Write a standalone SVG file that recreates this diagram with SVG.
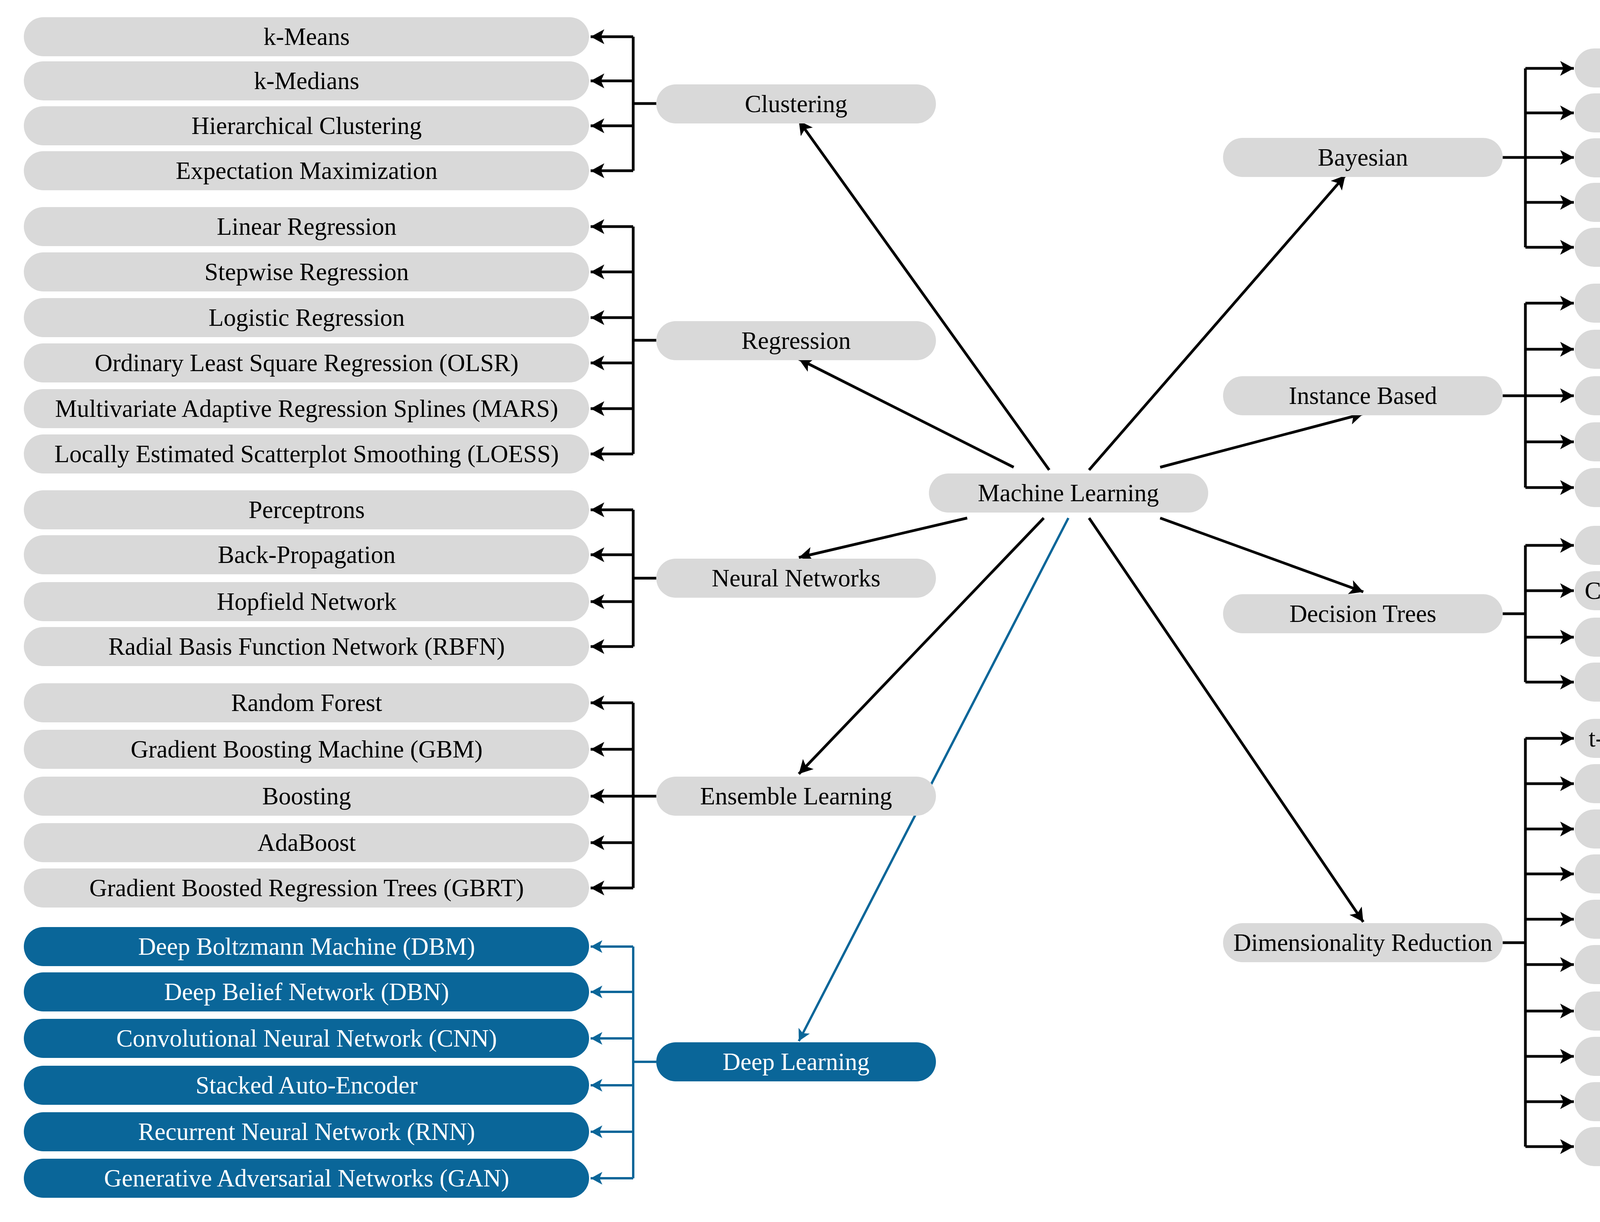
<svg xmlns="http://www.w3.org/2000/svg" width="5499" height="3128" viewBox="0 0 5499 3128">
<style>
.b{fill:#d9d9d9}
.d{fill:#0a6699}
text{font-family:"Liberation Serif","Times New Roman",serif;font-size:63px;text-anchor:middle;dominant-baseline:central;fill:#000}
.w{fill:#fff}
.k{stroke:#000;stroke-width:7;fill:none}
.u{stroke:#0a6699;stroke-width:6;fill:none}
.k line,.k path{marker-end:url(#a)}
.u line,.u path{marker-end:url(#ab)}
</style>
<defs>
<marker id="a" markerWidth="6" markerHeight="6" refX="5" refY="3" orient="auto" markerUnits="strokeWidth"><path d="M0,0.3 L5,3 L0,5.7 L1.2,3 Z" fill="#000"/></marker>
<marker id="ab" markerWidth="6" markerHeight="6" refX="5" refY="3" orient="auto" markerUnits="strokeWidth"><path d="M0,0.3 L5,3 L0,5.7 L1.2,3 Z" fill="#0a6699"/></marker>
</defs>
<g id="connectors">
<path class="k" d="M1680,265 H1621 M1621,94 V437 M1680,871 H1621 M1621,580 V1162 M1680,1480 H1621 M1621,1305 V1655 M1680,2038 H1621 M1621,1799 V2273 M3847,403 H3905 M3905,175 V633 M3847,1013 H3905 M3905,776 V1248 M3847,1571 H3905 M3905,1396 V1746 M3847,2413 H3905 M3905,1890 V2935"/>
<path class="u" d="M1680,2718 H1621 M1621,2423 V3016"/>
<g class="k">
<line x1="1621" y1="94" x2="1512" y2="94"/><line x1="1621" y1="207" x2="1512" y2="207"/><line x1="1621" y1="322" x2="1512" y2="322"/><line x1="1621" y1="437" x2="1512" y2="437"/>
<line x1="1621" y1="580" x2="1512" y2="580"/><line x1="1621" y1="696" x2="1512" y2="696"/><line x1="1621" y1="813" x2="1512" y2="813"/><line x1="1621" y1="929" x2="1512" y2="929"/><line x1="1621" y1="1046" x2="1512" y2="1046"/><line x1="1621" y1="1162" x2="1512" y2="1162"/>
<line x1="1621" y1="1305" x2="1512" y2="1305"/><line x1="1621" y1="1420" x2="1512" y2="1420"/><line x1="1621" y1="1540" x2="1512" y2="1540"/><line x1="1621" y1="1655" x2="1512" y2="1655"/>
<line x1="1621" y1="1799" x2="1512" y2="1799"/><line x1="1621" y1="1918" x2="1512" y2="1918"/><line x1="1621" y1="2038" x2="1512" y2="2038"/><line x1="1621" y1="2157" x2="1512" y2="2157"/><line x1="1621" y1="2273" x2="1512" y2="2273"/>
<line x1="3905" y1="175" x2="4029" y2="175"/><line x1="3905" y1="289" x2="4029" y2="289"/><line x1="3905" y1="403" x2="4029" y2="403"/><line x1="3905" y1="518" x2="4029" y2="518"/><line x1="3905" y1="633" x2="4029" y2="633"/>
<line x1="3905" y1="776" x2="4029" y2="776"/><line x1="3905" y1="894" x2="4029" y2="894"/><line x1="3905" y1="1013" x2="4029" y2="1013"/><line x1="3905" y1="1131" x2="4029" y2="1131"/><line x1="3905" y1="1248" x2="4029" y2="1248"/>
<line x1="3905" y1="1396" x2="4029" y2="1396"/><line x1="3905" y1="1512" x2="4029" y2="1512"/><line x1="3905" y1="1631" x2="4029" y2="1631"/><line x1="3905" y1="1746" x2="4029" y2="1746"/>
<line x1="3905" y1="1890" x2="4029" y2="1890"/><line x1="3905" y1="2006" x2="4029" y2="2006"/><line x1="3905" y1="2122" x2="4029" y2="2122"/><line x1="3905" y1="2237" x2="4029" y2="2237"/><line x1="3905" y1="2353" x2="4029" y2="2353"/><line x1="3905" y1="2469" x2="4029" y2="2469"/><line x1="3905" y1="2588" x2="4029" y2="2588"/><line x1="3905" y1="2704" x2="4029" y2="2704"/><line x1="3905" y1="2820" x2="4029" y2="2820"/><line x1="3905" y1="2935" x2="4029" y2="2935"/>
<line x1="2686" y1="1203" x2="2045" y2="309"/>
<line x1="2595" y1="1196" x2="2045" y2="919"/>
<line x1="2476" y1="1326" x2="2045" y2="1427"/>
<line x1="2672" y1="1326" x2="2045" y2="1981"/>
<line x1="2788" y1="1203" x2="3444" y2="449"/>
<line x1="2970" y1="1196" x2="3490" y2="1059"/>
<line x1="2970" y1="1326" x2="3490" y2="1515"/>
<line x1="2788" y1="1326" x2="3490" y2="2360"/>
</g>
<g class="u">
<line x1="1621" y1="2423" x2="1512" y2="2423"/><line x1="1621" y1="2539" x2="1512" y2="2539"/><line x1="1621" y1="2658" x2="1512" y2="2658"/><line x1="1621" y1="2778" x2="1512" y2="2778"/><line x1="1621" y1="2897" x2="1512" y2="2897"/><line x1="1621" y1="3016" x2="1512" y2="3016"/>
<line x1="2735" y1="1326" x2="2045" y2="2665"/>
</g>
</g>
<g id="ml"><rect class="b" x="2378" y="1212" width="715" height="100" rx="50"/><text x="2735" y="1262">Machine Learning</text></g>
<g id="clustering"><rect class="b" x="1680" y="216" width="716" height="100" rx="50"/><text x="2038" y="266">Clustering</text></g>
<g id="regression"><rect class="b" x="1680" y="822" width="716" height="100" rx="50"/><text x="2038" y="872">Regression</text></g>
<g id="neural"><rect class="b" x="1680" y="1430" width="716" height="100" rx="50"/><text x="2038" y="1480">Neural Networks</text></g>
<g id="ensemble"><rect class="b" x="1680" y="1988" width="716" height="100" rx="50"/><text x="2038" y="2038">Ensemble Learning</text></g>
<g id="deep"><rect class="d" x="1680" y="2668" width="716" height="100" rx="50"/><text class="w" x="2038" y="2718">Deep Learning</text></g>
<g id="bayesian"><rect class="b" x="3131" y="353" width="716" height="100" rx="50"/><text x="3489" y="403">Bayesian</text></g>
<g id="instance"><rect class="b" x="3131" y="963" width="716" height="100" rx="50"/><text x="3489" y="1013">Instance Based</text></g>
<g id="decision"><rect class="b" x="3131" y="1521" width="716" height="100" rx="50"/><text x="3489" y="1571">Decision Trees</text></g>
<g id="dimred"><rect class="b" x="3131" y="2363" width="716" height="100" rx="50"/><text x="3489" y="2413">Dimensionality Reduction</text></g>
<g id="left-items">
<g id="l1"><rect class="b" x="61" y="44" width="1447" height="100" rx="50"/><text x="785" y="94">k-Means</text></g>
<g id="l2"><rect class="b" x="61" y="157" width="1447" height="100" rx="50"/><text x="785" y="207">k-Medians</text></g>
<g id="l3"><rect class="b" x="61" y="272" width="1447" height="100" rx="50"/><text x="785" y="322">Hierarchical Clustering</text></g>
<g id="l4"><rect class="b" x="61" y="387" width="1447" height="100" rx="50"/><text x="785" y="437">Expectation Maximization</text></g>
<g id="l5"><rect class="b" x="61" y="530" width="1447" height="100" rx="50"/><text x="785" y="580">Linear Regression</text></g>
<g id="l6"><rect class="b" x="61" y="646" width="1447" height="100" rx="50"/><text x="785" y="696">Stepwise Regression</text></g>
<g id="l7"><rect class="b" x="61" y="763" width="1447" height="100" rx="50"/><text x="785" y="813">Logistic Regression</text></g>
<g id="l8"><rect class="b" x="61" y="879" width="1447" height="100" rx="50"/><text x="785" y="929">Ordinary Least Square Regression (OLSR)</text></g>
<g id="l9"><rect class="b" x="61" y="996" width="1447" height="100" rx="50"/><text x="785" y="1046">Multivariate Adaptive Regression Splines (MARS)</text></g>
<g id="l10"><rect class="b" x="61" y="1112" width="1447" height="100" rx="50"/><text x="785" y="1162">Locally Estimated Scatterplot Smoothing (LOESS)</text></g>
<g id="l11"><rect class="b" x="61" y="1255" width="1447" height="100" rx="50"/><text x="785" y="1305">Perceptrons</text></g>
<g id="l12"><rect class="b" x="61" y="1370" width="1447" height="100" rx="50"/><text x="785" y="1420">Back-Propagation</text></g>
<g id="l13"><rect class="b" x="61" y="1490" width="1447" height="100" rx="50"/><text x="785" y="1540">Hopfield Network</text></g>
<g id="l14"><rect class="b" x="61" y="1605" width="1447" height="100" rx="50"/><text x="785" y="1655">Radial Basis Function Network (RBFN)</text></g>
<g id="l15"><rect class="b" x="61" y="1749" width="1447" height="100" rx="50"/><text x="785" y="1799">Random Forest</text></g>
<g id="l16"><rect class="b" x="61" y="1868" width="1447" height="100" rx="50"/><text x="785" y="1918">Gradient Boosting Machine (GBM)</text></g>
<g id="l17"><rect class="b" x="61" y="1988" width="1447" height="100" rx="50"/><text x="785" y="2038">Boosting</text></g>
<g id="l18"><rect class="b" x="61" y="2107" width="1447" height="100" rx="50"/><text x="785" y="2157">AdaBoost</text></g>
<g id="l19"><rect class="b" x="61" y="2223" width="1447" height="100" rx="50"/><text x="785" y="2273">Gradient Boosted Regression Trees (GBRT)</text></g>
<g id="l20"><rect class="d" x="61" y="2373" width="1447" height="100" rx="50"/><text class="w" x="785" y="2423">Deep Boltzmann Machine (DBM)</text></g>
<g id="l21"><rect class="d" x="61" y="2489" width="1447" height="100" rx="50"/><text class="w" x="785" y="2539">Deep Belief Network (DBN)</text></g>
<g id="l22"><rect class="d" x="61" y="2608" width="1447" height="100" rx="50"/><text class="w" x="785" y="2658">Convolutional Neural Network (CNN)</text></g>
<g id="l23"><rect class="d" x="61" y="2728" width="1447" height="100" rx="50"/><text class="w" x="785" y="2778">Stacked Auto-Encoder</text></g>
<g id="l24"><rect class="d" x="61" y="2847" width="1447" height="100" rx="50"/><text class="w" x="785" y="2897">Recurrent Neural Network (RNN)</text></g>
<g id="l25"><rect class="d" x="61" y="2966" width="1447" height="100" rx="50"/><text class="w" x="785" y="3016">Generative Adversarial Networks (GAN)</text></g>
</g>
<g id="right-items">
<g id="r1"><rect class="b" x="4031" y="124" width="1444" height="100" rx="50"/><text x="4753" y="174">Naïve Bayes</text></g>
<g id="r2"><rect class="b" x="4031" y="239" width="1444" height="100" rx="50"/><text x="4753" y="289">Gaussian Naïve Bayes</text></g>
<g id="r3"><rect class="b" x="4031" y="354" width="1444" height="100" rx="50"/><text x="4753" y="404">Multinomial Naïve Bayes</text></g>
<g id="r4"><rect class="b" x="4031" y="468" width="1444" height="100" rx="50"/><text x="4753" y="518">Bayesian Network (BN)</text></g>
<g id="r5"><rect class="b" x="4031" y="583" width="1444" height="100" rx="50"/><text x="4753" y="633">Bayesian Belief Network (BBN)</text></g>
<g id="r6"><rect class="b" x="4031" y="726" width="1444" height="100" rx="50"/><text x="4753" y="776">k-Nearest Neighbor (kNN)</text></g>
<g id="r7"><rect class="b" x="4031" y="844" width="1444" height="100" rx="50"/><text x="4753" y="894">Learning Vector Quantization (LVQ)</text></g>
<g id="r8"><rect class="b" x="4031" y="963" width="1444" height="100" rx="50"/><text x="4753" y="1013">Self-Organizing Map (SOM)</text></g>
<g id="r9"><rect class="b" x="4031" y="1081" width="1444" height="100" rx="50"/><text x="4753" y="1131">Locally Weighted Learning (LWL)</text></g>
<g id="r10"><rect class="b" x="4031" y="1198" width="1444" height="100" rx="50"/><text x="4753" y="1248">Support Vector Machines (SVM)</text></g>
<g id="r11"><rect class="b" x="4031" y="1346" width="1444" height="100" rx="50"/><text x="4753" y="1396">Classification and Regression Tree (CART)</text></g>
<g id="r12"><rect class="b" x="4031" y="1462" width="1444" height="100" rx="50"/><text x="4753" y="1512">Chi-squared Automatic Interaction Detection (CHAID)</text></g>
<g id="r13"><rect class="b" x="4031" y="1581" width="1444" height="100" rx="50"/><text x="4753" y="1631">Decision Stump</text></g>
<g id="r14"><rect class="b" x="4031" y="1696" width="1444" height="100" rx="50"/><text x="4753" y="1746">Conditional Decision Trees</text></g>
<g id="r15"><rect class="b" x="4031" y="1840" width="1444" height="100" rx="50"/><text x="4753" y="1890">t-Distributed Stochastic Neighbor Embedding (t-SNE)</text></g>
<g id="r16"><rect class="b" x="4031" y="1956" width="1444" height="100" rx="50"/><text x="4753" y="2006">Principal Component Analysis (PCA)</text></g>
<g id="r17"><rect class="b" x="4031" y="2072" width="1444" height="100" rx="50"/><text x="4753" y="2122">Partial Least Squares Regression (PLSR)</text></g>
<g id="r18"><rect class="b" x="4031" y="2187" width="1444" height="100" rx="50"/><text x="4753" y="2237">Multidimensional Scaling (MDS)</text></g>
<g id="r19"><rect class="b" x="4031" y="2303" width="1444" height="100" rx="50"/><text x="4753" y="2353">Principal Component Regression (PCR)</text></g>
<g id="r20"><rect class="b" x="4031" y="2419" width="1444" height="100" rx="50"/><text x="4753" y="2469">Mixture Discriminant Analysis (MDA)</text></g>
<g id="r21"><rect class="b" x="4031" y="2538" width="1444" height="100" rx="50"/><text x="4753" y="2588">Quadratic Discriminant Analysis (QDA)</text></g>
<g id="r22"><rect class="b" x="4031" y="2654" width="1444" height="100" rx="50"/><text x="4753" y="2704">Regularized Discriminant Analysis (RDA)</text></g>
<g id="r23"><rect class="b" x="4031" y="2770" width="1444" height="100" rx="50"/><text x="4753" y="2820">Flexible Discriminant Analysis (FDA)</text></g>
<g id="r24"><rect class="b" x="4031" y="2885" width="1444" height="100" rx="50"/><text x="4753" y="2935">Linear Discriminant Analysis (LDA)</text></g>
</g>
</svg>
